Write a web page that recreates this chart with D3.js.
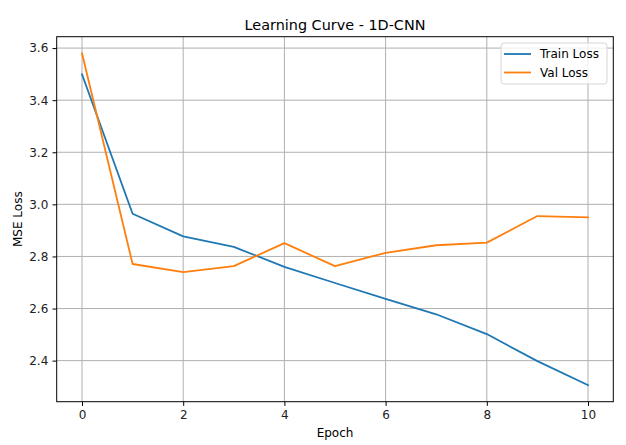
<!DOCTYPE html>
<html>
<head>
<meta charset="utf-8">
<script src="https://cdn.jsdelivr.net/npm/d3@7"></script>
<style>
  body { margin: 0; background: #fff; }
  text { font-family: "DejaVu Sans", sans-serif; fill: #000; }
</style>
</head>
<body>
<div id="chart"></div>
<script>
// values
var epochs = [0, 1, 2, 3, 4, 5, 6, 7, 8, 9, 10];
var trainLoss = [3.499, 2.964, 2.877, 2.837, 2.760, 2.698, 2.637, 2.578, 2.502, 2.398, 2.306];
var valLoss = [3.580, 2.771, 2.740, 2.763, 2.851, 2.763, 2.814, 2.843, 2.853, 2.955, 2.950];
var xTicks = [0, 2, 4, 6, 8, 10];
var yTicks = [2.4, 2.6, 2.8, 3.0, 3.2, 3.4, 3.6];
var seriesNames = ["Train Loss", "Val Loss"];
var seriesColors = ["#1f77b4", "#ff7f0e"];

var W = 626, H = 445;
var margin = {top: 36.7, right: 12.7, bottom: 43.3, left: 56.7};
var width = W - margin.left - margin.right,
    height = H - margin.top - margin.bottom;

var svg = d3.select("#chart").append("svg")
    .attr("width", W)
    .attr("height", H);

var g = svg.append("g")
    .attr("transform", "translate(" + margin.left + "," + margin.top + ")");

// matplotlib style 5% margins
var allY = trainLoss.concat(valLoss);
var yMin = d3.min(allY), yMax = d3.max(allY), yPad = (yMax - yMin) * 0.05;
var x = d3.scaleLinear().domain([-0.5, 10.5]).range([0, width]);
var y = d3.scaleLinear().domain([yMin - yPad, yMax + yPad]).range([height, 0]);

// grid
g.append("g").selectAll("line").data(xTicks).enter().append("line")
    .attr("x1", function(d) { return x(d); })
    .attr("x2", function(d) { return x(d); })
    .attr("y1", 0).attr("y2", height)
    .style("stroke", "#b0b0b0").style("stroke-width", 1);
g.append("g").selectAll("line").data(yTicks).enter().append("line")
    .attr("y1", function(d) { return y(d); })
    .attr("y2", function(d) { return y(d); })
    .attr("x1", 0).attr("x2", width)
    .style("stroke", "#b0b0b0").style("stroke-width", 1);

// lines
var data = [trainLoss, valLoss];
var line = d3.line()
    .x(function(d, i) { return x(epochs[i]); })
    .y(function(d) { return y(d); });

g.selectAll(".series").data(data).enter().append("path")
    .attr("class", "series")
    .attr("d", line)
    .style("fill", "none")
    .style("stroke", function(d, i) { return seriesColors[i]; })
    .style("stroke-width", 1.8)
    .style("stroke-linejoin", "round")
    .style("stroke-linecap", "square");

// axes
var xAxis = d3.axisBottom(x).tickValues(xTicks).tickSize(4.2).tickPadding(4.2)
    .tickFormat(d3.format("d"));
var yAxis = d3.axisLeft(y).tickValues(yTicks).tickSize(4.2).tickPadding(4.2)
    .tickFormat(d3.format(".1f"));

var gx = g.append("g")
    .attr("transform", "translate(0," + height + ")")
    .call(xAxis);
var gy = g.append("g").call(yAxis);

[gx, gy].forEach(function(a) {
  a.select(".domain").remove();
  a.selectAll("line").style("stroke", "#000").style("stroke-width", 1);
  a.selectAll("text").style("font-size", "12px").style("fill", "#222");
});

// frame
g.append("rect")
    .attr("width", width).attr("height", height)
    .style("fill", "none").style("stroke", "#000").style("stroke-width", 1);

// title and labels
svg.append("text")
    .attr("x", margin.left + width / 2)
    .attr("y", 30)
    .style("text-anchor", "middle")
    .style("font-size", "14.4px")
    .text("Learning Curve - 1D-CNN");

svg.append("text")
    .attr("x", margin.left + width / 2)
    .attr("y", 437)
    .style("text-anchor", "middle")
    .style("font-size", "12px")
    .text("Epoch");

svg.append("text")
    .attr("transform", "translate(21.5," + (margin.top + height / 2) + ") rotate(-90)")
    .style("text-anchor", "middle")
    .style("font-size", "12px")
    .text("MSE Loss");

// legend
var legend = svg.append("g").attr("transform", "translate(501,43)");
legend.append("rect")
    .attr("width", 106).attr("height", 41)
    .attr("rx", 3).attr("ry", 3)
    .style("fill", "#fff").style("fill-opacity", 0.8)
    .style("stroke", "#d6d6d6").style("stroke-width", 1);

var items = legend.selectAll(".item").data(seriesNames).enter().append("g")
    .attr("class", "item")
    .attr("transform", function(d, i) { return "translate(0," + (11 + i * 18.5) + ")"; });
items.append("line")
    .attr("x1", 3).attr("x2", 30)
    .style("stroke", function(d, i) { return seriesColors[i]; })
    .style("stroke-width", 1.8);
items.append("text")
    .attr("x", 39)
    .attr("dy", "0.35em")
    .style("font-size", "12px")
    .text(function(d) { return d; });
</script>
</body>
</html>
